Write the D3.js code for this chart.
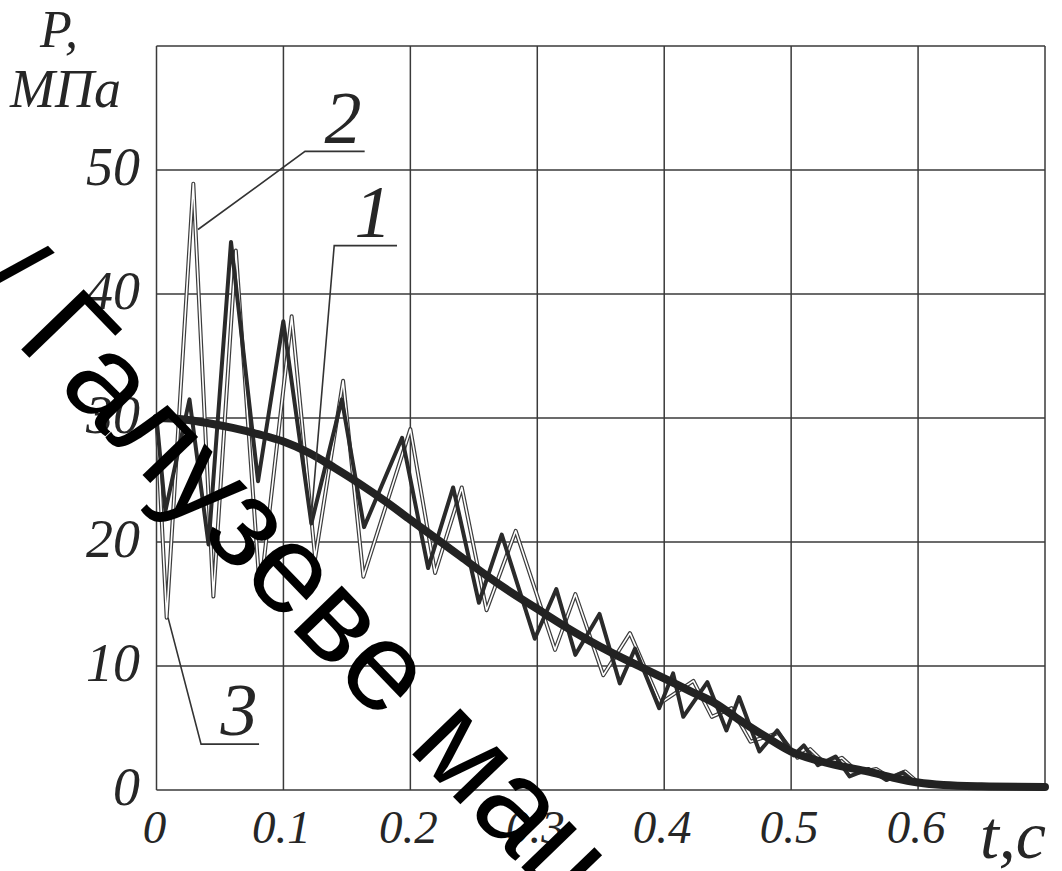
<!DOCTYPE html>
<html>
<head>
<meta charset="utf-8">
<script src="https://cdn.jsdelivr.net/npm/d3@7"></script>
<style>
  html, body { margin: 0; padding: 0; background: #fff; }
  svg { display: block; }
</style>
</head>
<body>
<svg id="chart" width="1062" height="871"></svg>
<script>
// ---- data (t in s, P in MPa) ----
const xTicks = [0, 0.1, 0.2, 0.3, 0.4, 0.5, 0.6, 0.7];
const xTickLabels = ["0", "0.1", "0.2", "0.3", "0.4", "0.5", "0.6", ""];
const yTicks = [0, 10, 20, 30, 40, 50, 60];
const yTickLabels = ["0", "10", "20", "30", "40", "50", ""];

// curve 1 (medium, oscillating)
const curve1 = [
  [0, 30], [0.007, 22.5], [0.026, 31.5], [0.041, 19.8], [0.0587, 44.2],
  [0.080, 24.9], [0.0999, 37.8], [0.122, 21.5], [0.146, 31.5], [0.1635, 21.2],
  [0.1935, 28.4], [0.214, 17.9], [0.2337, 24.4], [0.254, 15.1], [0.272, 20.6],
  [0.298, 12.2], [0.315, 16.2], [0.330, 10.9], [0.349, 14.2], [0.365, 8.6],
  [0.377, 11.4], [0.396, 6.6], [0.407, 9.4], [0.415, 5.9], [0.434, 8.7],
  [0.449, 4.8], [0.459, 7.5], [0.475, 3.1], [0.489, 4.8], [0.502, 2.8],
  [0.51, 3.6], [0.521, 2.0], [0.535, 2.7], [0.546, 1.1], [0.561, 1.7],
  [0.575, 0.8], [0.588, 1.4], [0.598, 0.6], [0.62, 0.35], [0.7, 0.25]
];

// curve 2 (thin, oscillating)
const curve2 = [
  [0, 30], [0.008, 13.9], [0.029, 48.9], [0.0448, 15.6], [0.0625, 43.5],
  [0.0816, 15.8], [0.1065, 38.2], [0.125, 18.7], [0.147, 33.0], [0.163, 17.2],
  [0.200, 29.1], [0.2195, 17.5], [0.2405, 24.4], [0.260, 14.5], [0.283, 20.9],
  [0.314, 11.3], [0.330, 15.8], [0.352, 9.25], [0.373, 12.65], [0.397, 7.0],
  [0.423, 8.8], [0.4375, 5.9], [0.453, 6.6], [0.468, 3.9], [0.49, 4.6],
  [0.505, 2.6], [0.515, 3.3], [0.527, 2.1], [0.54, 2.6], [0.553, 1.4],
  [0.567, 1.7], [0.578, 1.0], [0.59, 1.5], [0.6, 0.6], [0.62, 0.35], [0.7, 0.25]
];

// curve 3 (thick, smooth)
const curve3 = [
  [0, 30], [0.02, 29.9], [0.04, 29.6], [0.06, 29.2], [0.08, 28.7], [0.1, 28.1],
  [0.12, 27.2], [0.14, 26.0], [0.16, 24.7], [0.18, 23.3], [0.2, 21.8],
  [0.22, 20.3], [0.24, 18.8], [0.26, 17.3], [0.28, 15.9], [0.3, 14.6],
  [0.32, 13.3], [0.34, 12.1], [0.36, 11.0], [0.38, 10.0], [0.4, 9.0],
  [0.42, 8.0], [0.44, 7.0], [0.46, 5.6], [0.48, 4.3], [0.5, 3.1],
  [0.52, 2.4], [0.54, 1.9], [0.56, 1.5], [0.58, 1.0], [0.6, 0.6],
  [0.62, 0.4], [0.65, 0.3], [0.7, 0.25]
];

// curve labels with leader lines: [anchor on curve, corner, end], label position
const curveLabels = ["1", "2", "3"];
const leaderPoints = [
  [[0.1218, 21.8], [0.140, 43.9], [0.1895, 43.9]],
  [[0.0327, 45.2], [0.117, 51.5], [0.164, 51.5]],
  [[0.0091, 13.9], [0.0351, 3.7], [0.0808, 3.7]]
];
const labelPos = [[0.1706, 44.6], [0.147, 52.2], [0.065, 4.4]];

// ---- drawing ----
const svg = d3.select("#chart");
const x = d3.scaleLinear().domain([0, 0.7]).range([156.5, 1045]);
const y = d3.scaleLinear().domain([0, 60]).range([790, 46]);

const serif = "'Liberation Serif', 'Times New Roman', serif";
const ink = "#262626";

// grid
const grid = svg.append("g");
grid.selectAll("line.v").data(xTicks).join("line")
  .attr("x1", d => x(d)).attr("x2", d => x(d))
  .attr("y1", y(0)).attr("y2", y(60))
  .attr("stroke", "#3a3a3a").attr("stroke-width", 1.5);
grid.selectAll("line.h").data(yTicks).join("line")
  .attr("y1", d => y(d)).attr("y2", d => y(d))
  .attr("x1", x(0)).attr("x2", x(0.7))
  .attr("stroke", "#3a3a3a").attr("stroke-width", 1.5);

// tick labels
svg.append("g").selectAll("text").data(yTicks).join("text")
  .attr("x", 140).attr("y", d => y(d) + 15)
  .attr("text-anchor", "end")
  .attr("font-family", serif).attr("font-style", "italic")
  .attr("font-size", 54).attr("fill", ink)
  .text((d, i) => yTickLabels[i]);

svg.append("g").selectAll("text").data(xTicks).join("text")
  .attr("x", d => x(d) - 2).attr("y", 843)
  .attr("text-anchor", "middle")
  .attr("font-family", serif).attr("font-style", "italic")
  .attr("font-size", 47).attr("fill", ink)
  .text((d, i) => xTickLabels[i]);

// axis titles
svg.append("text").attr("x", 40).attr("y", 47)
  .attr("font-family", serif).attr("font-style", "italic")
  .attr("font-size", 52).attr("fill", ink).text("P,");
svg.append("text").attr("x", 10).attr("y", 107)
  .attr("font-family", serif).attr("font-style", "italic")
  .attr("font-size", 54).attr("fill", ink).text("МПа");
svg.append("text").attr("x", 1046).attr("y", 858).attr("text-anchor", "end")
  .attr("font-family", serif).attr("font-style", "italic")
  .attr("font-size", 68).attr("fill", ink).text("t,c");

// curves
const line = d3.line().x(d => x(d[0])).y(d => y(d[1]));
const smooth = d3.line().x(d => x(d[0])).y(d => y(d[1])).curve(d3.curveMonotoneX);

// curve 2: thin double-edged line
svg.append("path").datum(curve2).attr("d", line)
  .attr("fill", "none").attr("stroke", "#3c3c3c").attr("stroke-width", 4)
  .attr("stroke-linejoin", "round");
svg.append("path").datum(curve2).attr("d", line)
  .attr("fill", "none").attr("stroke", "#ffffff").attr("stroke-width", 1.6)
  .attr("stroke-linejoin", "round");

// curve 1
svg.append("path").datum(curve1).attr("d", line)
  .attr("fill", "none").attr("stroke", "#2a2a2a").attr("stroke-width", 4)
  .attr("stroke-linejoin", "round");

// curve 3
svg.append("path").datum(curve3).attr("d", smooth)
  .attr("fill", "none").attr("stroke", "#222").attr("stroke-width", 8)
  .attr("stroke-linecap", "round");

// leaders & labels
const leader = d3.line().x(d => x(d[0])).y(d => y(d[1]));
svg.append("g").selectAll("path").data(leaderPoints).join("path")
  .attr("d", leader).attr("fill", "none")
  .attr("stroke", "#333").attr("stroke-width", 1.6);
svg.append("g").selectAll("text").data(labelPos).join("text")
  .attr("x", d => x(d[0])).attr("y", d => y(d[1]))
  .attr("text-anchor", "middle")
  .attr("font-family", serif).attr("font-style", "italic")
  .attr("font-size", 74).attr("fill", ink)
  .text((d, i) => curveLabels[i]);

// watermark
const wm = svg.append("g").attr("transform", "translate(14,342) rotate(46)");
wm.append("text").attr("x", -36).attr("y", 0).attr("text-anchor", "end")
  .attr("font-family", "'Liberation Sans', Arial, sans-serif")
  .attr("font-size", 126).attr("fill", "#000").text("/");
wm.append("text").attr("x", 0).attr("y", 0)
  .attr("font-family", "'Liberation Sans', Arial, sans-serif")
  .attr("font-size", 126).attr("fill", "#000").text("Галузеве маш");
</script>
</body>
</html>
